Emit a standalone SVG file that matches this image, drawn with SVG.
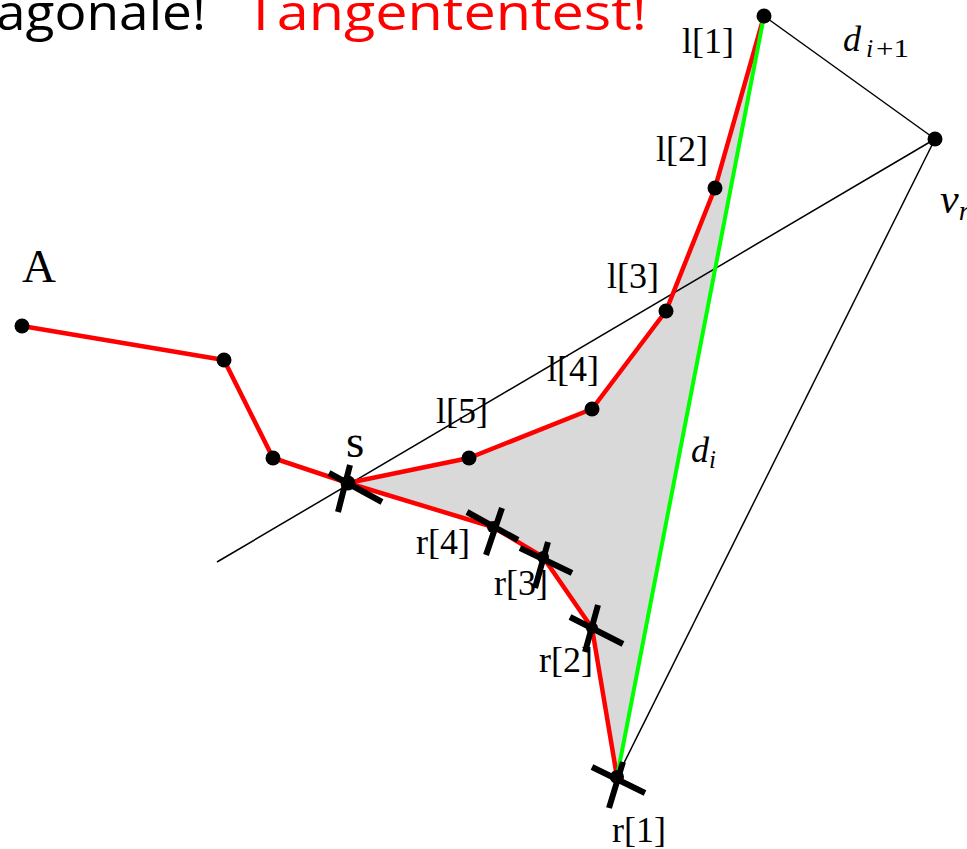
<svg xmlns="http://www.w3.org/2000/svg" width="967" height="849" viewBox="0 0 967 849">
<style>
.title{font-family:"Open Sans","Noto Sans",sans-serif;font-size:50px}
.lbl{font-family:"Liberation Serif","Times New Roman",serif;font-size:36px;fill:#000}
.big{font-family:"Liberation Serif","Times New Roman",serif;font-size:47px;fill:#000}
.math{font-family:"Liberation Serif","Times New Roman",serif;font-style:italic;fill:#000}
.sub{font-family:"Liberation Serif","Times New Roman",serif;font-size:26px;fill:#000}
.thin{stroke:#000;stroke-width:1.5;fill:none}
.red{stroke:#ff0000;stroke-width:4.5;fill:none;stroke-linejoin:round}
.green{stroke:#00ff00;stroke-width:4;fill:none}
.dot{fill:#000}
.cross{stroke:#000;stroke-width:6;fill:none}
</style>
<rect width="967" height="849" fill="#fff"/>
<text class="title" x="-4" y="30" textLength="210" lengthAdjust="spacingAndGlyphs" fill="#000">agonale!</text>
<text class="title" x="245" y="30" textLength="402" lengthAdjust="spacingAndGlyphs" fill="#ff0000">Tangententest!</text>
<g id="region">
<polygon points="348,483 469,458 592,409 666,311 715,188 764,16 617,777 592,628 543,557 493,527" fill="#d9d9d9"/>
</g>
<g id="connectors">
<line class="thin" x1="764" y1="16" x2="935" y2="139"/>
<line class="thin" x1="935" y1="139" x2="617" y2="777"/>
<line class="thin" x1="935" y1="139" x2="217" y2="562"/>
<polyline class="red" points="22,326 224,360 273,458 348,483 469,458 592,409 666,311 715,188 764,16"/>
<polyline class="red" points="348,483 493,527 543,557 592,628 617,777"/>
<line class="green" x1="764" y1="16" x2="617" y2="777"/>
</g>
<g id="node-A"><circle class="dot" cx="22" cy="326" r="7.5"/><text class="big" x="22" y="282">A</text></g>
<g id="node-p2"><circle class="dot" cx="224" cy="360" r="7.5"/></g>
<g id="node-p3"><circle class="dot" cx="273" cy="458" r="7.5"/></g>
<g id="node-s"><circle class="dot" cx="348" cy="483" r="7.5"/><path class="cross" d="M329,473 L382,502 M350,465 L338,512"/><text class="big" x="346" y="457">s</text></g>
<g id="node-l5"><circle class="dot" cx="469" cy="458" r="7.5"/><text class="lbl" x="436" y="423">l[5]</text></g>
<g id="node-l4"><circle class="dot" cx="592" cy="409" r="7.5"/><text class="lbl" x="547" y="381">l[4]</text></g>
<g id="node-l3"><circle class="dot" cx="666" cy="311" r="7.5"/><text class="lbl" x="607" y="288">l[3]</text></g>
<g id="node-l2"><circle class="dot" cx="715" cy="188" r="7.5"/><text class="lbl" x="656" y="161">l[2]</text></g>
<g id="node-l1"><circle class="dot" cx="764" cy="16" r="7.5"/><text class="lbl" x="682" y="53">l[1]</text></g>
<g id="node-v"><circle class="dot" cx="935" cy="139" r="7.5"/><text class="math" x="940" y="213" font-size="42">v<tspan font-size="28" dy="7">r</tspan></text></g>
<g id="node-r4"><circle class="dot" cx="493" cy="527" r="6"/><path class="cross" d="M467,512 L518,540 M502,508 L486,555"/><text class="lbl" x="416" y="554">r[4]</text></g>
<g id="node-r3"><circle class="dot" cx="543" cy="557" r="6"/><path class="cross" d="M520,548 L572,573 M548,542 L535,588"/><text class="lbl" x="494" y="595">r[3]</text></g>
<g id="node-r2"><circle class="dot" cx="592" cy="628" r="6"/><path class="cross" d="M570,617 L623,644 M598,605 L585,652"/><text class="lbl" x="539" y="672">r[2]</text></g>
<g id="node-r1"><circle class="dot" cx="617" cy="777" r="7"/><path class="cross" d="M592,767 L645,793 M623,762 L609,808"/><text class="lbl" x="612" y="842">r[1]</text></g>
<g id="label-di"><text class="math" x="691" y="462" font-size="36">d<tspan font-size="25" dy="6">i</tspan></text></g>
<g id="label-di1"><text class="math" x="843" y="51" font-size="36">d</text><text class="sub" x="866" y="57" font-style="italic">i</text><text class="sub" x="876" y="57" textLength="33" lengthAdjust="spacingAndGlyphs">+1</text></g>
</svg>
